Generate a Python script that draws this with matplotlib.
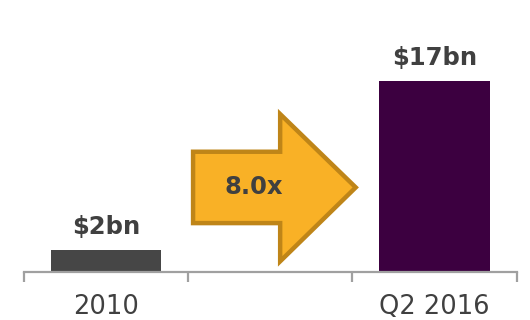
import matplotlib.pyplot as plt
from matplotlib.patches import Polygon

# Assets under management, $bn
categories = ["2010", "", "Q2 2016"]
values = [2, None, 17]
value_labels = ["$2bn", "", "$17bn"]
growth_label = "8.0x"

bar_colors = ["#464646", None, "#3C0040"]
text_color = "#404040"

fig = plt.figure(figsize=(5.3, 3.2), dpi=100)
ax = fig.add_axes([0.045, 0.15, 0.93, 0.85])

for i, v in enumerate(values):
    if v is None:
        continue
    ax.bar(i, v, width=0.675, color=bar_colors[i], zorder=2)
    ax.text(i, v + 1.4, value_labels[i], ha="center", va="baseline",
            fontsize=17.5, fontweight="bold", color=text_color)

# growth arrow between the two bars
x0, xh, xt = 0.53, 1.06, 1.52
yb0, yb1 = 4.35, 10.7
yh0, yh1 = 0.95, 14.05
ym = (yb0 + yb1) / 2
arrow = Polygon([(x0, yb0), (xh, yb0), (xh, yh0), (xt, ym), (xh, yh1),
                 (xh, yb1), (x0, yb1)], closed=True,
                facecolor="#F9B126", edgecolor="#BF8518", linewidth=3.2,
                joinstyle="miter", zorder=3)
ax.add_patch(arrow)
ax.text(0.90, ym, growth_label, ha="center", va="center", fontsize=17.5,
        fontweight="bold", color=text_color, zorder=4)

ax.set_xlim(-0.5, 2.5)
ax.set_ylim(0, 24.2)
for s in ["top", "right", "left"]:
    ax.spines[s].set_visible(False)
ax.spines["bottom"].set_color("#A0A0A0")
ax.spines["bottom"].set_linewidth(1.6)
ax.set_yticks([])

ax.set_xticks(range(len(categories)))
ax.set_xticklabels(categories, fontsize=18.5, color=text_color)
ax.tick_params(axis="x", which="major", length=0, pad=16)
ax.set_xticks([-0.5, 0.5, 1.5, 2.5], minor=True)
ax.tick_params(axis="x", which="minor", length=7, width=1.6, color="#A0A0A0")

fig.savefig("out.png", dpi=100)
